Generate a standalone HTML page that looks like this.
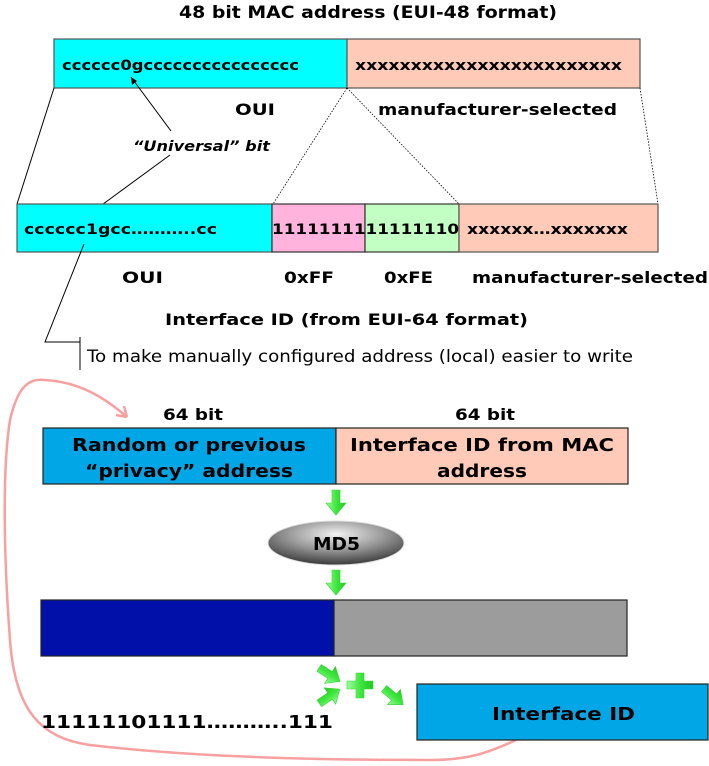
<!DOCTYPE html>
<html><head><meta charset="utf-8"><style>
html,body{margin:0;padding:0;background:#fff;}
svg{display:block;}
text{font-family:"DejaVu Sans","Liberation Sans",sans-serif;font-weight:bold;fill:#000;}
</style></head><body>
<svg width="709" height="766" viewBox="0 0 709 766" xmlns="http://www.w3.org/2000/svg">
<defs>
<linearGradient id="g" x1="0" y1="0" x2="1" y2="0">
<stop offset="0" stop-color="#9dff9d"/><stop offset="0.5" stop-color="#3fe83f"/><stop offset="1" stop-color="#22c922"/></linearGradient>
<radialGradient id="md" cx="0.5" cy="0.3" r="0.7">
<stop offset="0" stop-color="#f2f2f2"/><stop offset="0.5" stop-color="#9a9a9a"/><stop offset="1" stop-color="#3a3a3a"/></radialGradient>
<g id="ar"><path d="M-4,-13 L4,-13 L4,0 L10,0 L0,12 L-10,0 L-4,0 Z" fill="url(#g)" stroke="#3ccf3c" stroke-width="0.6"/></g>
</defs>

<text x="179" y="18" font-size="17" textLength="378" lengthAdjust="spacingAndGlyphs">48 bit MAC address (EUI-48 format)</text>

<rect x="54" y="39" width="293" height="49" fill="#00ffff" stroke="#555" stroke-width="1.2"/>
<rect x="347" y="39" width="293" height="49" fill="#ffcbb8" stroke="#555" stroke-width="1.2"/>
<text x="62" y="70" font-size="14" textLength="237" lengthAdjust="spacingAndGlyphs">cccccc0gcccccccccccccccc</text>
<text x="355" y="70" font-size="14" textLength="267" lengthAdjust="spacingAndGlyphs">xxxxxxxxxxxxxxxxxxxxxxxx</text>
<text x="235" y="115" font-size="16" textLength="40" lengthAdjust="spacingAndGlyphs">OUI</text>
<text x="378" y="115" font-size="16" textLength="239" lengthAdjust="spacingAndGlyphs">manufacturer-selected</text>
<text x="133" y="151" font-size="14" font-style="italic" textLength="137" lengthAdjust="spacingAndGlyphs">“Universal” bit</text>

<g stroke="#000" stroke-width="1" fill="none">
<line x1="171" y1="131" x2="131" y2="77"/>
<line x1="170" y1="155" x2="95" y2="210"/>
<line x1="54" y1="88" x2="17" y2="204"/>
</g>
<path d="M131,77 l1,8 l5,-4 z" fill="#000"/>
<path d="M93,212 l8,-2 l-4,-5 z" fill="#000"/>
<g stroke="#000" stroke-width="0.8" fill="none" stroke-dasharray="1.5,1.5">
<line x1="347" y1="88" x2="273" y2="204"/>
<line x1="347" y1="88" x2="459" y2="204"/>
<line x1="640" y1="88" x2="658" y2="204"/>
</g>

<rect x="17" y="204" width="255" height="48" fill="#00ffff" stroke="#555" stroke-width="1.2"/>
<rect x="272" y="204" width="93" height="48" fill="#ffb3dd" stroke="#333" stroke-width="1.2"/>
<rect x="365" y="204" width="94" height="48" fill="#c2ffc2" stroke="#333" stroke-width="1.2"/>
<rect x="459" y="204" width="199" height="48" fill="#ffcbb8" stroke="#555" stroke-width="1.2"/>
<text x="24" y="234" font-size="14" textLength="193" lengthAdjust="spacingAndGlyphs">cccccc1gcc………..cc</text>
<text x="272" y="234" font-size="14" textLength="187" lengthAdjust="spacingAndGlyphs">1111111111111110</text>
<text x="467" y="234" font-size="14" textLength="161" lengthAdjust="spacingAndGlyphs">xxxxxx…xxxxxxx</text>
<text x="122" y="283" font-size="16" textLength="41" lengthAdjust="spacingAndGlyphs">OUI</text>
<text x="284" y="283" font-size="16" textLength="50" lengthAdjust="spacingAndGlyphs">0xFF</text>
<text x="384" y="283" font-size="16" textLength="49" lengthAdjust="spacingAndGlyphs">0xFE</text>
<text x="472" y="283" font-size="16" textLength="236" lengthAdjust="spacingAndGlyphs">manufacturer-selected</text>
<text x="165" y="325" font-size="16" textLength="363" lengthAdjust="spacingAndGlyphs">Interface ID (from EUI-64 format)</text>

<g stroke="#000" stroke-width="1" fill="none">
<polyline points="84,244 45,342 80,342"/>
<line x1="80" y1="337" x2="80" y2="370"/>
</g>
<text x="87" y="362" font-size="17" font-weight="normal" style="font-weight:normal" textLength="546" lengthAdjust="spacingAndGlyphs">To make manually configured address (local) easier to write</text>

<path d="M516,740 C490,752 470,760 430,760 C330,760 200,758 90,745 C40,738 15,710 10,640 C4,560 2,470 10,420 C18,385 30,378 45,380 C80,382 105,398 127,417" fill="none" stroke="#f7a0a0" stroke-width="2.5"/>
<path d="M127,417 l-11,-2 M127,417 l-3,-11" stroke="#f7a0a0" stroke-width="2.5" fill="none"/>

<text x="163" y="420" font-size="16" textLength="60" lengthAdjust="spacingAndGlyphs">64 bit</text>
<text x="455" y="420" font-size="16" textLength="60" lengthAdjust="spacingAndGlyphs">64 bit</text>
<rect x="43" y="428" width="293" height="56" fill="#00a6e6" stroke="#222" stroke-width="1.2"/>
<rect x="336" y="428" width="292" height="56" fill="#ffcbb8" stroke="#222" stroke-width="1.2"/>
<text x="72" y="451" font-size="18" textLength="234" lengthAdjust="spacingAndGlyphs">Random or previous</text>
<text x="85" y="477" font-size="18" textLength="208" lengthAdjust="spacingAndGlyphs">“privacy” address</text>
<text x="350" y="451" font-size="18" textLength="264" lengthAdjust="spacingAndGlyphs">Interface ID from MAC</text>
<text x="437" y="477" font-size="18" textLength="90" lengthAdjust="spacingAndGlyphs">address</text>

<use href="#ar" transform="translate(336,503)"/>
<ellipse cx="336" cy="543" rx="68" ry="22" fill="url(#md)" stroke="#ddd" stroke-width="1"/>
<text x="313" y="550" font-size="18" textLength="47" lengthAdjust="spacingAndGlyphs">MD5</text>
<use href="#ar" transform="translate(336,583)"/>

<rect x="41" y="600" width="293" height="56" fill="#0010a8" stroke="#222" stroke-width="1.2"/>
<rect x="334" y="600" width="293" height="56" fill="#9c9c9c" stroke="#222" stroke-width="1.2"/>

<use href="#ar" transform="translate(330,675) rotate(-57)"/>
<use href="#ar" transform="translate(330,696) rotate(-125)"/>
<path d="M356,673 h8 v8 h9 v8 h-9 v9 h-8 v-9 h-9 v-8 h9 z" fill="url(#g)" stroke="#3ccf3c" stroke-width="0.6"/>
<use href="#ar" transform="translate(394,697) rotate(-50)"/>

<text x="41" y="728" font-size="18" textLength="292" lengthAdjust="spacingAndGlyphs">11111101111………..111</text>
<rect x="417" y="684" width="291" height="56" fill="#00a6e6" stroke="#222" stroke-width="1.2"/>
<text x="492" y="720" font-size="18" textLength="143" lengthAdjust="spacingAndGlyphs">Interface ID</text>
</svg>
</body></html>
